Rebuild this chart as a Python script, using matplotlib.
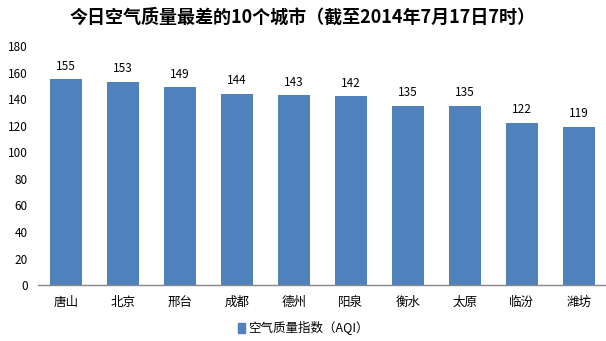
import matplotlib
matplotlib.use("Agg")
import matplotlib.pyplot as plt
from matplotlib.patches import Patch

plt.rcParams['font.family'] = ['Noto Sans CJK SC', 'DejaVu Sans']

cities = ["唐山", "北京", "邢台", "成都", "德州", "阳泉", "衡水", "太原", "临汾", "潍坊"]
aqi = [155, 153, 149, 144, 143, 142, 135, 135, 122, 119]
y_ticks = [0, 20, 40, 60, 80, 100, 120, 140, 160, 180]

bar_color = "#4F81BD"

fig = plt.figure(figsize=(6.06, 3.41), dpi=100)
ax = fig.add_axes([0.062, 0.164, 0.94, 0.701])

x = range(len(cities))
bars = ax.bar(x, aqi, width=0.56, color=bar_color)
for xi, v in zip(x, aqi):
    ax.text(xi, v + 5, str(v), ha="center", va="bottom", fontsize=8.5)

ax.set_xlim(-0.5, len(cities) - 0.5)
ax.set_ylim(0, 180)
ax.set_yticks(y_ticks)
ax.set_yticklabels([str(t) for t in y_ticks], fontsize=8.5)
ax.set_xticks(list(x))
ax.set_xticklabels(cities, fontsize=9)
ax.tick_params(axis="y", length=0, pad=7)
ax.tick_params(axis="x", length=0, pad=8)
for s in ("top", "right", "left"):
    ax.spines[s].set_visible(False)
ax.spines["bottom"].set_color("#868686")
ax.spines["bottom"].set_linewidth(1.0)

fig.text(0.5, 0.95, "今日空气质量最差的10个城市（截至2014年7月17日7时）",
         ha="center", va="center", fontsize=13, fontweight="bold")

fig.legend(handles=[Patch(color=bar_color, label="空气质量指数（AQI）")],
           loc="center", bbox_to_anchor=(0.5, 0.037), frameon=False,
           fontsize=9, handlelength=0.6, handleheight=0.9, handletextpad=0.2)

fig.savefig("out.png", dpi=100, facecolor="white")
